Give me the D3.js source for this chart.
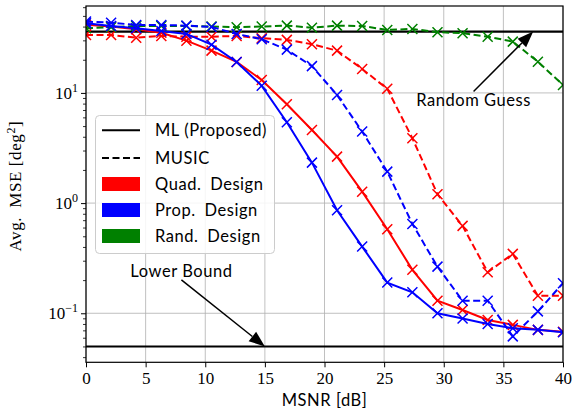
<!DOCTYPE html>
<html><head><meta charset="utf-8">
<script src="https://cdn.jsdelivr.net/npm/d3@7"></script>
<style>body{margin:0;background:#fff}svg{display:block}</style>
</head><body>
<svg id="c" width="574" height="411"></svg>
<script>
// ---- data ----
const msnr = d3.range(20).map(i => i * 40 / 19); // 20 evenly spaced SNR points 0..40 dB
const mlQuad  = [41.5, 40, 37.9, 35.2, 29.8, 24.2, 19.1, 13.1, 7.89, 4.61, 2.64, 1.27, 0.579, 0.248, 0.130, 0.107, 0.087, 0.0785, 0.0707, 0.068];
const mlProp  = [42.9, 40.5, 38.6, 36.5, 34.3, 27.4, 19.1, 11.6, 5.42, 2.33, 0.86, 0.403, 0.190, 0.155, 0.100, 0.0895, 0.080, 0.073, 0.0707, 0.0673];
const muQuad  = [33.6, 33.6, 31.7, 32.9, 32.4, 32.4, 32.9, 31.4, 30.3, 27.7, 24.2, 16.5, 10.9, 3.88, 1.205, 0.621, 0.236, 0.346, 0.144, 0.144];
const muProp  = [44.4, 43.4, 41.4, 41.4, 40.8, 39.7, 34.3, 30.7, 24.7, 17.5, 9.59, 4.46, 1.93, 0.647, 0.265, 0.130, 0.130, 0.0617, 0.104, 0.1875];
const muRand  = [38.7, 39.5, 40.5, 40.5, 40.5, 40, 39.5, 40, 40.8, 39.1, 40.8, 40.5, 37.3, 38.1, 35.6, 34.8, 32.4, 29.2, 19.2, 11.8];
const randomGuess = 36;
const lowerBound = 0.05;
const xTicks = [0, 5, 10, 15, 20, 25, 30, 35, 40];
const yTickExps = [-1, 0, 1];
const legendLabels = ["ML (Proposed)", "MUSIC", "Quad.\u2002Design", "Prop.\u2002Design", "Rand.\u2002Design"];

// ---- layout ----
const svg = d3.select("#c");
const L = 86, R = 563, T = 6, B = 362.3;
const x = d3.scaleLinear().domain([0, 40]).range([L, R]);
const y = d3.scaleLog().domain([0.0359, 61.5]).range([B, T]);
const serif = "'Liberation Serif', 'Times New Roman', serif";
const sans = "Lato, 'DejaVu Sans', sans-serif";
const sansSpacing = 0.55;

// grid
const grid = svg.append("g").attr("stroke", "#b0b0b0").attr("stroke-width", 0.8);
xTicks.forEach(t => grid.append("line").attr("x1", x(t)).attr("x2", x(t)).attr("y1", T).attr("y2", B));
yTickExps.forEach(e => grid.append("line").attr("x1", L).attr("x2", R).attr("y1", y(Math.pow(10, e))).attr("y2", y(Math.pow(10, e))));

const clip = svg.append("clipPath").attr("id", "clp").append("rect")
  .attr("x", L).attr("y", T).attr("width", R - L).attr("height", B - T);
const plot = svg.append("g").attr("clip-path", "url(#clp)");

// reference lines
[randomGuess, lowerBound].forEach(v => plot.append("line").attr("x1", L).attr("x2", R)
  .attr("y1", y(v)).attr("y2", y(v)).attr("stroke", "#000").attr("stroke-width", 2));

const series = [
  {vals: mlQuad, color: "#ff0000", dash: null},
  {vals: muQuad, color: "#ff0000", dash: "7,3.5"},
  {vals: muRand, color: "#008000", dash: "7,3.5"},
  {vals: muProp, color: "#0000ff", dash: "7,3.5"},
  {vals: mlProp, color: "#0000ff", dash: null},
];
const line = d3.line().x((d, i) => x(msnr[i])).y(d => y(d));
series.forEach(s => {
  plot.append("path").datum(s.vals).attr("d", line).attr("fill", "none")
    .attr("stroke", s.color).attr("stroke-width", 2).attr("stroke-dasharray", s.dash);
  const m = 5;
  plot.append("g").selectAll("path").data(s.vals).join("path")
    .attr("d", (d, i) => {
      const cx = x(msnr[i]), cy = y(d);
      return `M${cx - m},${cy - m}L${cx + m},${cy + m}M${cx - m},${cy + m}L${cx + m},${cy - m}`;
    })
    .attr("stroke", s.color).attr("stroke-width", 1.5).attr("fill", "none");
});

// frame
svg.append("rect").attr("x", L).attr("y", T).attr("width", R - L).attr("height", B - T)
  .attr("fill", "none").attr("stroke", "#000").attr("stroke-width", 1.2);

// x axis
const xa = svg.append("g").attr("transform", `translate(0,${B})`)
  .call(d3.axisBottom(x).tickValues(xTicks).tickSize(5).tickPadding(5).tickFormat(d3.format("d")));
xa.select(".domain").remove();
xa.selectAll("line").attr("stroke", "#000").attr("stroke-width", 1);
xa.selectAll("text").attr("font-family", serif).attr("font-size", 17).attr("fill", "#000");

// y axis (major + minor)
const minor = [];
for (let e = -2; e <= 1; e++) for (let k = 2; k <= 9; k++) {
  const v = k * Math.pow(10, e);
  if (v >= y.domain()[0] && v <= y.domain()[1]) minor.push(v);
}
const ya = svg.append("g").attr("transform", `translate(${L},0)`);
ya.call(d3.axisLeft(y).tickValues(minor).tickSize(3).tickFormat(""));
ya.select(".domain").remove();
ya.selectAll("line").attr("stroke", "#000").attr("stroke-width", 0.8);
const yb = svg.append("g").attr("transform", `translate(${L},0)`);
yb.call(d3.axisLeft(y).tickValues(yTickExps.map(e => Math.pow(10, e))).tickSize(5).tickFormat(""));
yb.select(".domain").remove();
yb.selectAll("line").attr("stroke", "#000").attr("stroke-width", 1);
yTickExps.forEach(e => {
  const t = svg.append("text").attr("x", L - 8).attr("y", y(Math.pow(10, e)) + 6)
    .attr("text-anchor", "end").attr("font-family", serif).attr("font-size", 17);
  t.append("tspan").text("10");
  t.append("tspan").attr("dy", -7).attr("font-size", 12).text(e < 0 ? "\u2212" + (-e) : String(e));
});

// axis labels
svg.append("text").attr("x", x(20)).attr("y", 406).attr("text-anchor", "middle")
  .attr("font-family", sans).attr("font-size", 16.5).attr("letter-spacing", sansSpacing).text("MSNR [dB]");
const yl = svg.append("text").attr("transform", `translate(21,${(T + B) / 2 + 2}) rotate(-90)`)
  .attr("text-anchor", "middle").attr("font-family", serif).attr("font-size", 17).attr("letter-spacing", 0.6);
yl.append("tspan").text("Avg.\u2002MSE [deg");
yl.append("tspan").attr("dy", -6).attr("font-size", 12).text("2");
yl.append("tspan").attr("dy", 6).text("]");

// annotations
function annotate(label, tipX, tipY, txtX, txtY, tailDy) {
  const tx = x(txtX), ty = y(txtY);
  svg.append("text").attr("x", tx).attr("y", ty + 6).attr("text-anchor", "middle")
    .attr("font-family", sans).attr("font-size", 16.5).attr("letter-spacing", sansSpacing).text(label);
  const x0 = tx, y0 = ty + tailDy, x1 = x(tipX), y1 = y(tipY);
  const ang = Math.atan2(y1 - y0, x1 - x0), hl = 16, hw = 6;
  const bx = x1 - hl * Math.cos(ang), by = y1 - hl * Math.sin(ang);
  svg.append("line").attr("x1", x0).attr("y1", y0).attr("x2", bx).attr("y2", by)
    .attr("stroke", "#000").attr("stroke-width", 1.5);
  const px = -Math.sin(ang) * hw, py = Math.cos(ang) * hw;
  svg.append("path").attr("d", `M${x1},${y1}L${bx + px},${by + py}L${bx - px},${by - py}Z`).attr("fill", "#000");
}
annotate("Random Guess", 37.5, randomGuess, 32.5, 8.64, -8.5);
annotate("Lower Bound", 15, lowerBound, 8, 0.2427, 9);

// legend
const lg = svg.append("g");
lg.append("rect").attr("x", 95.5).attr("y", 115.5).attr("width", 179).attr("height", 138).attr("rx", 4)
  .attr("fill", "#fff").attr("fill-opacity", 0.85).attr("stroke", "#cccccc").attr("stroke-width", 1);
const rows = [130.3, 158, 184, 210, 236];
const hx0 = 102, hx1 = 140;
lg.append("line").attr("x1", hx0).attr("x2", hx1).attr("y1", rows[0]).attr("y2", rows[0]).attr("stroke", "#000").attr("stroke-width", 2);
lg.append("line").attr("x1", hx0).attr("x2", hx1).attr("y1", rows[1]).attr("y2", rows[1]).attr("stroke", "#000").attr("stroke-width", 2).attr("stroke-dasharray", "7,3.5");
["#ff0000", "#0000ff", "#008000"].forEach((c, i) => lg.append("rect").attr("x", hx0).attr("y", rows[i + 2] - 7)
  .attr("width", hx1 - hx0).attr("height", 14).attr("fill", c));
legendLabels.forEach((t, i) => lg.append("text").attr("x", 155).attr("y", rows[i] + 6)
  .attr("font-family", sans).attr("font-size", 16.5).attr("letter-spacing", sansSpacing).text(t));
</script>
</body></html>
